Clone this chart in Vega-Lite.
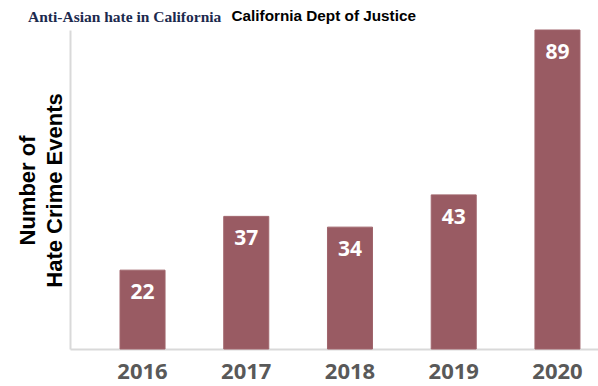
{
  "$schema": "https://vega.github.io/schema/vega-lite/v6.json",
  "width": 528,
  "height": 319,
  "autosize": {"type": "none"},
  "padding": {"left": 70, "top": 30, "right": 0, "bottom": 37},
  "background": "white",
  "title": {"text": "Anti-Asian hate in California", "anchor": "start", "frame": "group", "font": "Liberation Serif", "fontSize": 15.5, "fontWeight": "bold", "color": "#1c2a4e", "dx": -42, "dy": 29, "offset": 0, "baseline": "alphabetic"},
  "data": {"values": [
    {"year": "2016", "events": 22},
    {"year": "2017", "events": 37},
    {"year": "2018", "events": 34},
    {"year": "2019", "events": 43},
    {"year": "2020", "events": 89}
  ]},
  "config": {"view": {"stroke": null}},
  "layer": [
    {
      "mark": {"type": "bar", "color": "#995b63", "stroke": "#a0656c", "strokeWidth": 1},
      "encoding": {
        "x": {"field": "year", "type": "ordinal",
          "scale": {"paddingInner": 0.566, "paddingOuter": 0.328, "align": 0.735},
          "axis": {"orient": "bottom", "title": null, "domainColor": "#d9d9d9", "domainWidth": 2, "ticks": false, "tickSize": 0, "labelFont": "Open Sans", "labelFontSize": 22, "labelFontWeight": "bold", "labelColor": "#595959", "labelPadding": 12, "labelAngle": 0, "grid": false}},
        "y": {"field": "events", "type": "quantitative",
          "scale": {"domain": [0, 89], "nice": false},
          "axis": {"title": ["Number of", "Hate Crime Events"], "labels": false, "ticks": false, "grid": false, "domainColor": "#d9d9d9", "domainWidth": 2, "titleFont": "Liberation Sans", "titleFontSize": 22, "titleFontWeight": "bold", "titleColor": "#000000", "titleAngle": -90, "titleX": -36, "titleY": 160, "titleAlign": "center", "titleBaseline": "alphabetic", "titleLineHeight": 27}}
      }
    },
    {
      "mark": {"type": "text", "color": "white", "font": "Open Sans", "fontSize": 21, "fontWeight": "bold", "baseline": "alphabetic", "dy": 29},
      "encoding": {
        "x": {"field": "year", "type": "ordinal",
          "axis": {"orient": "top", "title": "California Dept of Justice", "labels": false, "ticks": false, "domain": false, "grid": false, "titleFont": "Liberation Sans", "titleFontSize": 15.3, "titleFontWeight": "bold", "titleColor": "#000000", "titleX": 161, "titleY": -10, "titleAnchor": "start", "titleAlign": "left", "titleBaseline": "alphabetic"}},
        "y": {"field": "events", "type": "quantitative"},
        "text": {"field": "events", "type": "quantitative"}
      }
    }
  ],
  "resolve": {"axis": {"x": "independent"}}
}
